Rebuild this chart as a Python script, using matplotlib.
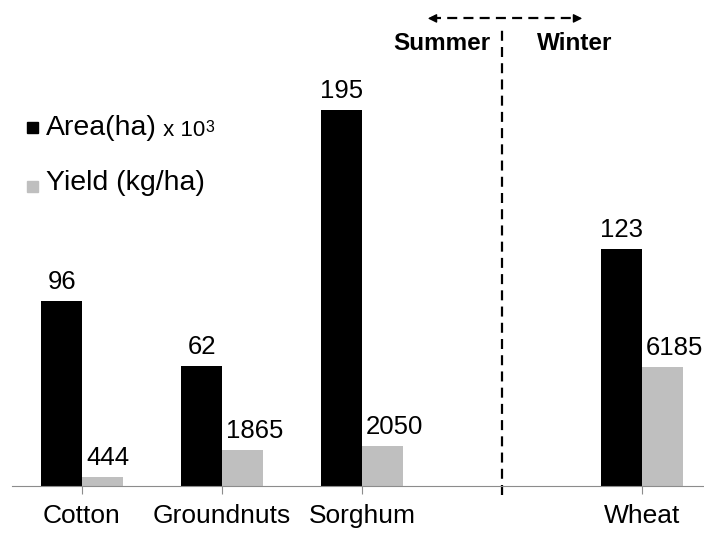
import numpy as np
import matplotlib
matplotlib.use("Agg")
import matplotlib.pyplot as plt
from matplotlib.patches import Rectangle

plt.rcParams["font.family"] = ["Liberation Sans", "DejaVu Sans"]

# data (empty slot between summer and winter crops)
crops = ["Cotton", "Groundnuts", "Sorghum", "", "Wheat"]
area_kha = [96, 62, 195, np.nan, 123]        # Area (ha) x 10^3
yield_kgha = [444, 1865, 2050, np.nan, 6185]  # Yield (kg/ha)
yield_scale = 100  # yield bars drawn as kg/ha / 100 on the same axis

BLACK = "#000000"
GRAY = "#bfbfbf"
AXIS_GRAY = "#8c8c8c"

fig = plt.figure(figsize=(7.04, 5.33), dpi=100)
base_px = 485.7
px_per_unit = 1.927
ax = fig.add_axes([12 / 704, (533 - base_px) / 533, 692 / 704, base_px / 533])

x = np.arange(len(crops))
w = 0.29
ax.bar(x - w, area_kha, width=w, align="edge", color=BLACK)
ax.bar(x, np.array(yield_kgha) / yield_scale, width=w, align="edge", color=GRAY)

for xi, a, yv in zip(x, area_kha, yield_kgha):
    if np.isnan(a):
        continue
    ax.annotate(f"{a:g}", xy=(xi - w / 2, a), xytext=(0, 8.5), textcoords="offset points",
                ha="center", va="baseline", fontsize=18.5)
    ax.annotate(f"{yv:g}", xy=(xi, yv / yield_scale), xytext=(3, 8.5), textcoords="offset points",
                ha="left", va="baseline", fontsize=18.5)

ax.set_xlim(-0.5, (704 - 82) / 140)
ax.set_ylim(0, base_px / px_per_unit)
ax.set_xticks(x)
ax.set_xticklabels(crops, fontsize=19)
ax.tick_params(axis="x", length=5.5, width=0.8, color=AXIS_GRAY, pad=8)
ax.set_yticks([])
for s in ("left", "top", "right"):
    ax.spines[s].set_visible(False)
ax.spines["bottom"].set_color(AXIS_GRAY)
ax.spines["bottom"].set_linewidth(0.8)

# summer / winter divider
ax.plot([3.0, 3.0], [-4.8, 236.5], color=BLACK, lw=1.6, ls=(0, (4.5, 2.8)), clip_on=False)
ay = 242.5
ax.plot([2.49, 3.55], [ay, ay], color=BLACK, lw=1.6, ls=(0, (4.5, 2.8)), clip_on=False)
ax.annotate("", xy=(2.45, ay), xytext=(2.52, ay),
            arrowprops=dict(arrowstyle="-|>", color=BLACK, lw=1, mutation_scale=13))
ax.annotate("", xy=(3.593, ay), xytext=(3.52, ay),
            arrowprops=dict(arrowstyle="-|>", color=BLACK, lw=1, mutation_scale=13))
ax.text(2.914, 226, "Summer", ha="right", va="baseline", fontsize=17.5, fontweight="bold")
ax.text(3.25, 226, "Winter", ha="left", va="baseline", fontsize=17.5, fontweight="bold")

# hand-placed legend
tr = fig.transFigure
fig.patches.append(Rectangle((27 / 704, (533 - 133) / 533), 11 / 704, 11 / 533,
                             transform=tr, color=BLACK))
fig.patches.append(Rectangle((27 / 704, (533 - 192) / 533), 11 / 704, 11 / 533,
                             transform=tr, color=GRAY))
t1 = fig.text(46 / 704, (533 - 135) / 533, "Area(ha)", fontsize=20.5, va="baseline")
t2 = ax.annotate(" x 10", xy=(1, 0), xycoords=t1, va="bottom", ha="left", fontsize=16)
ax.annotate("3", xy=(1, 1), xycoords=t2, xytext=(0.5, 0), textcoords="offset points",
            va="top", ha="left", fontsize=11.5)
fig.text(46 / 704, (533 - 190) / 533, "Yield (kg/ha)", fontsize=20.5, va="baseline")

fig.savefig("out.png", dpi=100)
